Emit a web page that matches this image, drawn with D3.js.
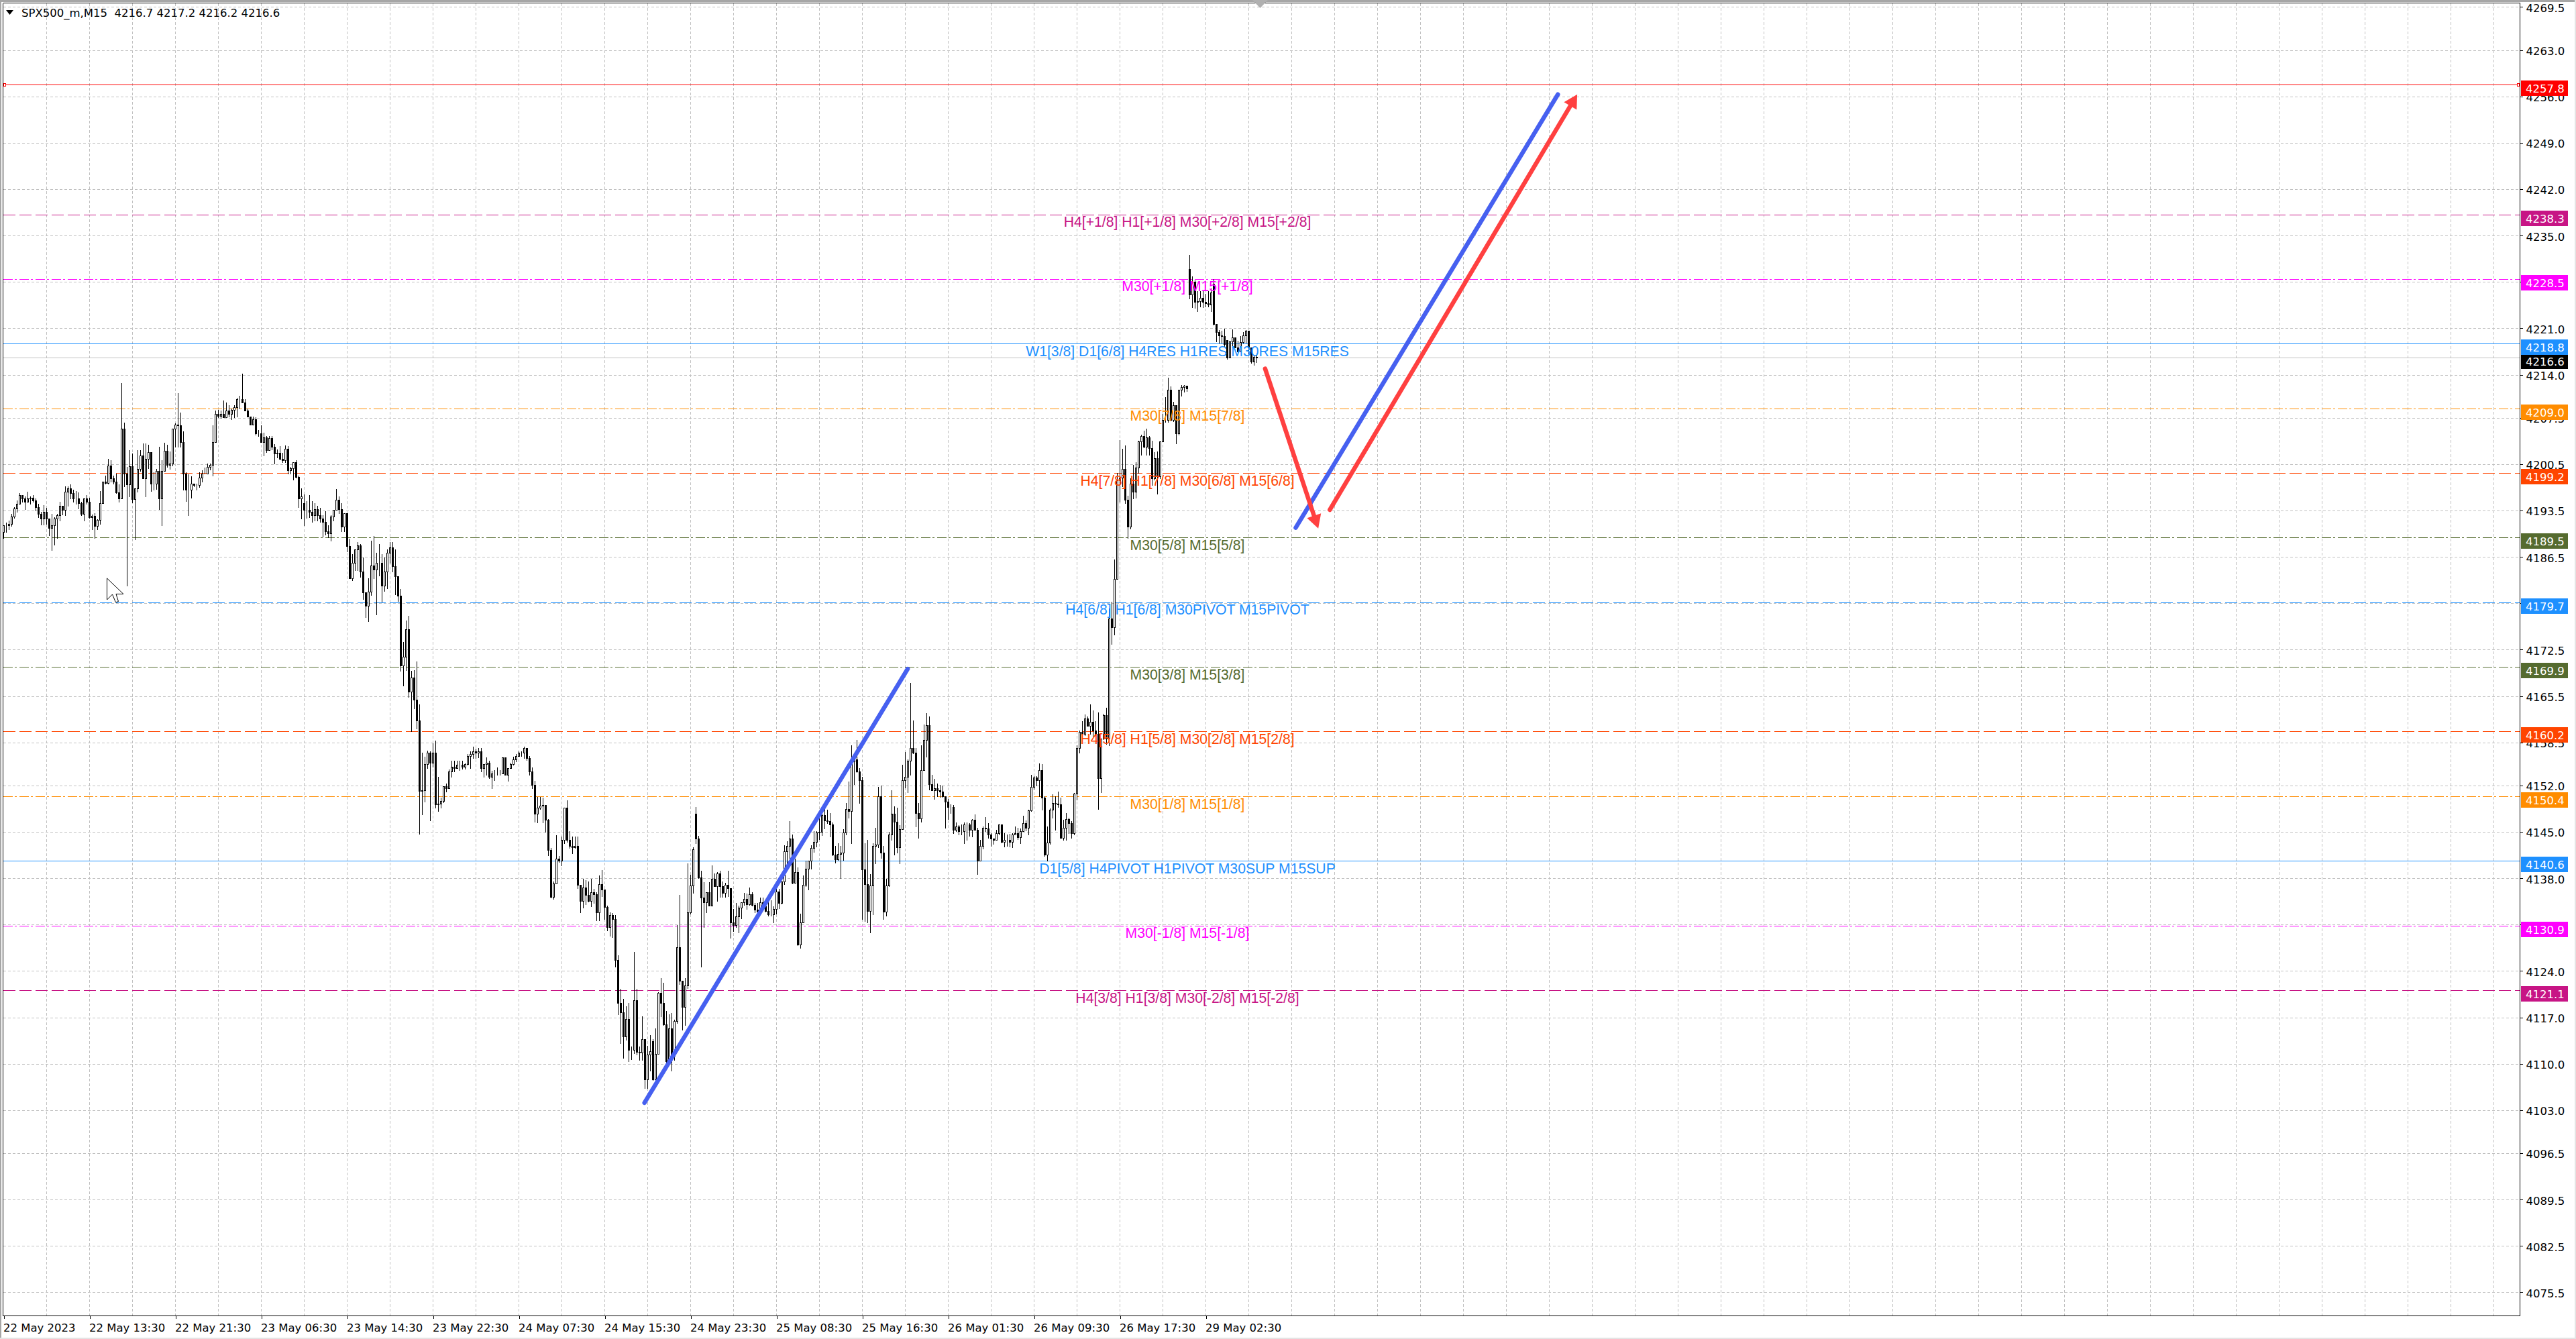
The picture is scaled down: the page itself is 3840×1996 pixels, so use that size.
<!DOCTYPE html>
<html>
<head>
<meta charset="utf-8">
<title>SPX500_m,M15</title>
<script src="https://cdn.jsdelivr.net/npm/d3@7"></script>
<style>
  html, body { margin: 0; padding: 0; background: #fff; overflow: hidden; }
  svg { display: block; }
  .axis text { font-family: "DejaVu Sans", sans-serif; font-size: 16.5px; fill: #000; }
  .axis path, .axis line { stroke: #000; shape-rendering: crispEdges; }
  .tag text, .header { font-family: "DejaVu Sans", sans-serif; font-size: 16.5px; }
  .level-label { font-family: "Liberation Sans", Arial, sans-serif; font-size: 21.2px; text-anchor: middle; }
</style>
</head>
<body>
<svg id="chart" width="3840" height="1996"></svg>
<script>
const closes = [
  4191.3,4191.3,4191.5,4192.6,4193.8,4194.5,4195.8,4195.3,4194.8,4195.3,
  4195.4,4195.0,4194.0,4193.0,4192.3,4193.3,4192.3,4190.9,4191.3,4192.3,
  4192.8,4194.2,4193.6,4196.3,4196.8,4196.1,4195.3,4195.3,4194.6,4193.0,
  4195.3,4194.8,4192.5,4192.7,4191.2,4192.1,4194.6,4197.9,4197.7,4200.3,
  4198.4,4197.9,4196.2,4195.3,4205.9,4199.1,4197.4,4200.2,4195.2,4196.8,
  4199.8,4201.8,4198.4,4201.3,4202.3,4197.6,4197.5,4199.5,4195.3,4199.5,
  4202.5,4200.4,4200.6,4205.9,4206.5,4206.4,4203.8,4199.1,4196.6,4196.6,
  4197.6,4197.3,4197.3,4198.5,4199.1,4199.1,4200.1,4200.4,4203.8,4208.1,
  4207.8,4208.1,4207.6,4208.6,4208.1,4208.7,4209.1,4210.3,4210.3,4209.8,
  4208.6,4207.7,4206.5,4207.3,4205.1,4205.1,4203.8,4204.5,4202.6,4204.4,
  4203.1,4202.1,4202.2,4201.3,4201.1,4202.8,4199.6,4199.9,4200.8,4198.6,
  4195.3,4195.6,4193.6,4193.6,4193.3,4192.8,4193.7,4192.8,4192.3,4191.8,
  4190.4,4190.1,4192.6,4193.6,4195.1,4193.7,4191.1,4193.1,4188.1,4183.3,
  4185.6,4187.6,4188.2,4184.3,4181.1,4179.1,4181.2,4185.2,4184.6,4185.6,
  4185.6,4182.2,4184.3,4187.1,4187.9,4185.1,4183.6,4180.6,4170.1,4171.4,
  4175.6,4166.2,4168.3,4164.9,4161.8,4151.2,4151.3,4155.2,4156.9,4155.4,
  4156.9,4149.2,4149.3,4149.7,4151.9,4151.6,4154.1,4154.8,4154.6,4155.1,
  4155.1,4154.8,4155.2,4156.4,4156.7,4157.2,4156.9,4157.2,4154.6,4155.2,
  4155.4,4153.3,4153.8,4153.8,4153.8,4153.8,4156.2,4153.6,4154.6,4155.2,
  4155.9,4156.4,4156.9,4156.9,4157.7,4156.1,4154.1,4152.1,4147.7,4148.6,
  4148.9,4149.1,4146.8,4142.3,4135.2,4137.2,4140.9,4140.6,4143.8,4148.6,
  4143.8,4142.9,4142.7,4142.9,4137.0,4134.6,4136.6,4135.5,4134.6,4135.9,
  4135.6,4132.9,4137.1,4136.3,4133.7,4130.6,4132.4,4131.8,4125.7,4119.2,
  4117.8,4114.1,4116.7,4112.1,4112.1,4119.6,4111.8,4111.7,4113.7,4107.6,
  4111.4,4111.9,4107.6,4111.5,4120.7,4119.2,4115.9,4110.4,4115.3,4111.2,
  4116.4,4127.6,4122.5,4118.6,4121.8,4132.9,4136.9,4142.4,4144.0,4138.1,
  4135.1,4134.4,4135.9,4133.9,4137.9,4136.8,4138.7,4136.8,4135.8,4137.0,
  4136.5,4131.3,4130.9,4132.2,4133.6,4134.4,4134.9,4134.1,4135.6,4134.0,
  4133.3,4133.0,4134.4,4133.8,4133.1,4132.5,4132.5,4133.4,4136.0,4134.3,
  4137.5,4142.1,4142.9,4144.0,4137.3,4138.9,4128.0,4131.3,4137.0,4139.4,
  4140.6,4142.6,4143.5,4144.9,4145.0,4147.5,4146.7,4146.6,4146.1,4141.6,
  4140.8,4141.7,4141.9,4144.9,4148.4,4148.1,4155.6,4155.9,4154.1,4152.8,
  4139.3,4137.1,4133.1,4136.9,4142.9,4143.1,4150.4,4141.9,4133.0,4136.9,
  4144.6,4147.7,4146.5,4142.7,4145.4,4152.8,4153.3,4155.7,4157.7,4156.9,
  4147.8,4147.0,4154.3,4158.9,4161.1,4152.2,4151.3,4151.6,4151.3,4151.1,
  4150.4,4149.6,4148.7,4148.7,4145.3,4145.8,4145.1,4145.1,4146.1,4146.1,
  4145.3,4146.8,4145.3,4140.6,4142.9,4145.6,4145.5,4144.6,4144.0,4143.8,
  4144.8,4146.1,4143.5,4143.8,4143.8,4143.5,4144.6,4144.8,4144.2,4145.1,
  4146.3,4145.6,4148.2,4151.8,4153.2,4152.8,4154.3,4150.2,4141.6,4143.4,
  4148.3,4149.4,4149.3,4149.2,4144.1,4145.6,4146.9,4146.3,4144.8,4150.8,
  4157.7,4160.1,4159.8,4162.1,4161.0,4161.6,4160.3,4159.8,4153.1,4159.1,
  4162.6,4159.1,4177.2,4175.9,4183.2,4198.1,4198.5,4199.8,4195.1,4191.1,
  4197.5,4196.3,4200.0,4203.9,4204.7,4203.1,4204.5,4202.9,4198.4,4201.4,
  4198.7,4203.9,4207.2,4207.2,4211.7,4207.2,4209.4,4205.1,4211.7,4212.1,
  4212.3,4211.9,4226.1,4228.0,4225.0,4225.1,4225.6,4225.0,4224.8,4224.6,
  4226.4,4221.6,4220.4,4219.9,4219.8,4218.6,4216.6,4219.0,4219.6,4218.1,
  4217.5,4218.9,4219.9,4220.6,4218.1,4216.0,4216.7,4216.6
];
const highs = [
  4191.3,4191.7,4192.0,4193.0,4194.0,4195.0,4196.1,4195.6,4195.6,4196.3,
  4195.6,4195.8,4195.3,4194.5,4193.3,4194.3,4193.9,4192.1,4193.0,4192.5,
  4193.0,4194.8,4194.2,4197.1,4197.1,4197.4,4196.6,4196.4,4196.2,4194.8,
  4195.3,4195.8,4195.4,4192.9,4193.1,4192.2,4196.4,4197.9,4198.8,4201.3,
  4201.1,4198.8,4199.1,4197.4,4212.7,4206.8,4200.1,4202.6,4202.1,4196.8,
  4202.6,4202.6,4203.6,4203.6,4203.4,4202.3,4199.3,4199.8,4203.1,4201.1,
  4203.7,4203.4,4202.4,4205.9,4206.7,4211.2,4208.3,4205.4,4199.3,4199.0,
  4198.7,4197.6,4197.6,4199.3,4199.6,4200.0,4200.6,4200.6,4206.4,4208.6,
  4208.7,4208.6,4210.1,4209.8,4209.4,4208.9,4209.4,4210.5,4210.8,4214.2,
  4210.3,4208.9,4207.7,4207.7,4207.6,4205.7,4206.4,4205.2,4204.7,4204.7,
  4204.7,4203.5,4202.7,4203.2,4202.2,4203.3,4203.2,4200.1,4200.8,4201.1,
  4198.8,4196.8,4195.9,4194.9,4195.8,4194.9,4194.6,4194.2,4193.9,4192.8,
  4193.4,4191.3,4192.8,4193.6,4196.7,4195.6,4194.6,4193.1,4193.1,4189.2,
  4186.9,4187.6,4188.7,4188.4,4186.4,4181.0,4183.3,4188.9,4189.7,4187.1,
  4188.4,4186.9,4186.4,4187.6,4188.7,4188.7,4187.6,4183.6,4181.7,4173.7,
  4176.9,4177.6,4169.3,4169.4,4170.7,4164.2,4156.9,4156.3,4157.3,4157.1,
  4158.4,4158.8,4153.3,4150.2,4151.9,4152.3,4154.4,4155.7,4155.7,4155.7,
  4155.7,4155.7,4155.3,4156.7,4157.2,4157.9,4157.6,4157.7,4157.7,4155.2,
  4156.2,4155.7,4154.2,4154.3,4154.7,4154.3,4156.2,4156.2,4154.6,4155.4,
  4156.3,4156.7,4157.1,4157.2,4157.9,4157.6,4156.4,4154.7,4152.7,4150.3,
  4150.3,4150.2,4148.9,4146.9,4142.6,4137.5,4144.5,4141.4,4144.3,4148.6,
  4149.8,4145.1,4144.3,4144.3,4144.3,4136.8,4137.9,4137.7,4137.5,4137.9,
  4136.4,4135.9,4138.4,4139.2,4136.1,4133.9,4132.9,4132.7,4132.4,4126.4,
  4121.3,4119.8,4118.7,4119.2,4112.6,4126.9,4121.3,4112.6,4117.2,4113.7,
  4112.7,4114.3,4113.7,4115.3,4120.8,4122.9,4122.2,4118.0,4117.5,4117.7,
  4116.6,4130.9,4135.5,4122.2,4122.9,4140.2,4138.5,4142.7,4148.7,4144.4,
  4139.1,4137.4,4135.9,4137.4,4139.9,4138.7,4138.9,4139.1,4137.5,4137.3,
  4139.1,4136.4,4133.4,4134.3,4133.9,4134.4,4135.8,4135.7,4136.6,4135.9,
  4134.3,4134.3,4135.1,4135.1,4134.5,4134.5,4134.7,4133.8,4136.7,4136.4,
  4137.5,4143.0,4143.6,4146.6,4144.6,4140.9,4139.6,4132.6,4138.4,4140.6,
  4140.6,4143.0,4145.1,4145.1,4147.7,4148.2,4148.4,4148.3,4147.8,4146.4,
  4142.9,4143.3,4142.9,4145.4,4149.4,4152.6,4158.1,4156.8,4158.9,4154.6,
  4153.3,4143.3,4143.8,4138.6,4143.3,4145.6,4151.8,4152.0,4142.9,4137.9,
  4145.0,4151.3,4148.8,4148.6,4146.0,4155.1,4157.0,4155.9,4167.5,4161.8,
  4157.7,4149.4,4158.1,4161.2,4162.9,4162.4,4153.6,4153.0,4152.3,4152.1,
  4152.0,4150.2,4150.0,4149.2,4149.0,4146.4,4146.0,4146.1,4146.4,4146.4,
  4146.3,4146.9,4147.6,4145.6,4143.8,4145.8,4147.2,4146.3,4144.8,4144.0,
  4145.3,4146.1,4145.9,4144.8,4144.6,4144.7,4144.8,4145.8,4145.6,4145.5,
  4147.4,4146.7,4148.3,4153.6,4153.4,4153.4,4155.3,4155.2,4150.4,4145.8,
  4148.5,4150.7,4150.4,4151.1,4150.2,4146.8,4147.8,4147.1,4146.6,4150.9,
  4158.1,4160.3,4161.7,4162.7,4162.4,4164.2,4163.3,4161.7,4163.0,4159.1,
  4162.8,4163.7,4178.7,4179.7,4186.1,4199.2,4204.1,4202.8,4203.3,4195.7,
  4198.4,4200.4,4200.8,4204.0,4204.9,4205.5,4205.9,4204.7,4204.0,4202.3,
  4202.4,4203.9,4208.1,4210.6,4213.5,4212.2,4209.9,4209.0,4211.7,4212.4,
  4212.4,4212.3,4232.1,4228.8,4228.2,4226.6,4226.6,4226.6,4226.2,4226.6,
  4227.0,4228.4,4221.6,4220.7,4220.6,4220.9,4219.1,4219.1,4220.8,4219.6,
  4219.1,4219.8,4220.4,4220.7,4220.5,4218.1,4217.0,4217.2
];
const lows = [
  4189.3,4190.3,4190.7,4191.2,4192.4,4193.3,4194.5,4194.8,4193.7,4194.8,
  4194.5,4194.8,4193.5,4192.5,4191.4,4191.4,4191.5,4189.8,4187.5,4188.3,
  4189.3,4192.0,4192.9,4192.8,4194.2,4195.3,4194.8,4194.5,4193.8,4192.8,
  4192.0,4194.5,4192.4,4190.7,4189.3,4190.7,4191.5,4194.6,4197.6,4197.6,
  4197.9,4197.6,4196.1,4194.8,4195.6,4197.1,4182.2,4195.6,4194.7,4189.1,
  4196.3,4199.5,4198.4,4195.6,4199.9,4196.4,4196.6,4196.7,4193.7,4191.3,
  4199.5,4200.1,4199.8,4200.3,4203.1,4203.1,4203.1,4196.6,4194.9,4192.8,
  4195.4,4197.1,4196.6,4197.0,4197.9,4199.1,4199.2,4199.7,4198.8,4203.8,
  4207.6,4207.5,4207.6,4207.6,4207.7,4207.3,4207.6,4207.7,4208.9,4209.8,
  4208.6,4207.7,4206.5,4206.7,4204.9,4204.7,4203.8,4201.8,4202.3,4202.7,
  4202.7,4200.6,4201.5,4201.2,4200.8,4200.8,4199.1,4199.1,4198.2,4198.5,
  4194.0,4192.3,4191.3,4192.4,4192.5,4191.8,4192.0,4192.0,4191.8,4189.6,
  4189.9,4189.4,4188.9,4192.0,4193.8,4193.1,4190.4,4190.4,4187.3,4183.3,
  4183.0,4184.5,4184.5,4183.5,4180.1,4177.4,4176.8,4180.7,4183.3,4177.8,
  4183.7,4179.7,4181.4,4181.8,4185.6,4184.3,4180.8,4179.8,4169.3,4167.1,
  4169.4,4165.4,4160.2,4163.6,4160.6,4144.7,4147.6,4149.6,4154.6,4146.7,
  4154.8,4148.6,4148.1,4148.6,4149.5,4151.1,4151.6,4153.3,4154.1,4154.6,
  4154.3,4154.5,4154.5,4155.1,4154.6,4156.1,4156.1,4156.2,4154.1,4153.3,
  4153.6,4153.1,4151.6,4152.8,4153.6,4153.6,4154.0,4153.6,4152.7,4154.6,
  4155.1,4155.6,4156.4,4156.4,4156.1,4155.8,4153.6,4151.6,4146.5,4146.4,
  4148.4,4146.4,4145.0,4141.5,4135.1,4134.9,4137.5,4140.4,4139.9,4143.3,
  4143.5,4142.6,4141.8,4142.6,4136.5,4132.9,4133.6,4134.1,4134.5,4133.8,
  4134.3,4131.6,4131.6,4135.3,4131.8,4130.1,4129.3,4129.1,4124.6,4117.5,
  4113.1,4110.9,4113.6,4110.4,4110.7,4111.6,4111.4,4110.6,4110.6,4106.3,
  4106.3,4109.0,4107.5,4107.5,4111.7,4117.2,4115.8,4109.2,4110.2,4109.0,
  4110.6,4116.1,4122.0,4115.1,4115.8,4121.4,4132.6,4135.8,4143.3,4138.0,
  4124.6,4130.6,4132.9,4133.9,4134.0,4136.8,4134.6,4135.2,4135.2,4135.2,
  4135.3,4129.0,4130.0,4130.6,4129.8,4131.9,4134.0,4133.4,4134.0,4133.9,
  4132.9,4132.8,4132.8,4133.8,4133.0,4132.3,4132.3,4131.3,4132.6,4133.5,
  4134.2,4137.1,4140.2,4140.9,4137.2,4137.3,4127.9,4127.5,4131.3,4136.8,
  4136.3,4139.4,4142.0,4142.8,4143.9,4144.5,4145.5,4146.3,4144.3,4141.5,
  4140.3,4140.7,4138.0,4140.7,4144.6,4147.1,4143.3,4152.2,4154.0,4149.4,
  4131.8,4131.5,4131.3,4129.8,4132.5,4140.2,4142.7,4141.1,4131.8,4132.3,
  4136.8,4143.8,4141.6,4141.9,4140.2,4145.5,4151.7,4151.0,4153.6,4156.8,
  4145.8,4144.1,4146.5,4154.4,4156.3,4151.4,4151.3,4150.0,4150.4,4150.3,
  4150.3,4145.6,4146.9,4147.8,4144.8,4145.1,4144.6,4144.6,4143.3,4143.8,
  4144.4,4144.3,4145.3,4138.6,4140.6,4142.5,4145.1,4144.1,4142.9,4143.2,
  4144.0,4144.6,4143.4,4142.8,4142.9,4142.8,4142.7,4144.8,4143.9,4143.3,
  4145.1,4145.2,4144.6,4148.1,4151.5,4152.0,4150.4,4148.3,4141.4,4140.6,
  4143.2,4147.1,4145.3,4148.7,4144.1,4143.8,4143.8,4144.8,4144.1,4144.6,
  4149.9,4156.9,4159.1,4159.6,4161.0,4159.8,4159.5,4159.6,4148.4,4151.0,
  4159.0,4158.3,4158.1,4173.4,4174.8,4183.3,4194.8,4197.1,4194.6,4189.3,
  4190.8,4195.3,4195.4,4199.2,4201.9,4203.0,4201.9,4201.9,4197.3,4198.2,
  4196.0,4198.4,4203.9,4206.9,4206.9,4207.1,4207.0,4203.6,4204.9,4210.8,
  4211.4,4211.5,4225.5,4224.2,4224.1,4223.6,4224.3,4224.2,4224.3,4224.3,
  4223.6,4221.5,4219.0,4218.8,4218.8,4218.2,4216.4,4216.6,4218.1,4218.1,
  4217.4,4217.5,4218.8,4218.8,4217.0,4215.8,4215.5,4215.9
];
// an open follows the previous close, except at these gaps
const gapBars = [0, 112, 242, 258, 442, 451, 456];
const gapOpens = [4190.3, 4194.6, 4113.4, 4147.7, 4230.0, 4227.7, 4219.2];

const priceTicks = [4269.5,4263,4256,4249,4242,4235,4228,4221,4214,4207.5,4200.5,4193.5,4186.5,
  4179.5,4172.5,4165.5,4158.5,4152,4145,4138,4131,4124,4117,4110,4103,4096.5,4089.5,4082.5,4075.5];
const timeLabels = ["22 May 2023","22 May 13:30","22 May 21:30","23 May 06:30","23 May 14:30",
  "23 May 22:30","24 May 07:30","24 May 15:30","24 May 23:30","25 May 08:30","25 May 16:30",
  "26 May 01:30","26 May 09:30","26 May 17:30","29 May 02:30"];

const levelPrices = [4238.2,4228.45,4218.7,4208.9,4199.15,4189.4,4179.65,4169.9,4160.15,4150.35,4140.6,4130.85,4121.1];
const levelTags = ["4238.3","4228.5","4218.8","4209.0","4199.2","4189.5","4179.7","4169.9","4160.2","4150.4","4140.6","4130.9","4121.1"];
const levelColors = ["#c71585","#ff00ff","#1e90ff","#ff8c00","#ff4500","#556b2f","#1e90ff","#556b2f","#ff4500","#ff8c00","#1e90ff","#ff00ff","#c71585"];
const levelKinds = ["dash","dashdot","solid","dashdot","dash","dashdot","dash","dashdot","dash","dashdot","solid","dashdot","dash"];
const levelTexts = [
  "H4[+1/8] H1[+1/8] M30[+2/8] M15[+2/8]",
  "M30[+1/8] M15[+1/8]",
  "W1[3/8] D1[6/8] H4RES H1RES M30RES M15RES",
  "M30[7/8] M15[7/8]",
  "H4[7/8] H1[7/8] M30[6/8] M15[6/8]",
  "M30[5/8] M15[5/8]",
  "H4[6/8] H1[6/8] M30PIVOT M15PIVOT",
  "M30[3/8] M15[3/8]",
  "H4[5/8] H1[5/8] M30[2/8] M15[2/8]",
  "M30[1/8] M15[1/8]",
  "D1[5/8] H4PIVOT H1PIVOT M30SUP M15SUP",
  "M30[-1/8] M15[-1/8]",
  "H4[3/8] H1[3/8] M30[-2/8] M15[-2/8]"
];

const targetPrice = 4257.8;
const bidPrice = 4216.6;

// bar index and price of both ends
const trendLines = [
  { bars: [238.8, 336.9], prices: [4104.1, 4169.6], color: "#4660f0", arrow: false },
  { bars: [481.5, 579.2], prices: [4190.9, 4256.3], color: "#4660f0", arrow: false },
  { bars: [470.1, 489.9], prices: [4214.9, 4190.8], color: "#ff4040", arrow: true },
  { bars: [494.2, 586.4], prices: [4193.6, 4256.3], color: "#ff4040", arrow: true }
];

const width = 3840;
const height = 1996;
const plotLeft = 4.5;
const plotTop = 4.5;
const plotRight = 3756.5;
const plotBottom = 1961.5;

const svg = d3.select("#chart");
const xScale = d3.scaleLinear().domain([0, 467]).range([5.5, 1873.5]);
const yScale = d3.scaleLinear().domain([4269.5, 4075.5]).range([10.4, 1926.4]);
const snap = (v) => Math.round(v) + 0.5;

// window frame
svg.append("rect").attr("width", width).attr("height", height).attr("fill", "#fff");
svg.append("rect").attr("width", width).attr("height", 3).attr("fill", "#a6a6a6");
svg.append("rect").attr("width", 2).attr("height", height).attr("fill", "#a6a6a6");
svg.append("rect").attr("x", width - 2).attr("width", 2).attr("height", height).attr("fill", "#e4e4e4");
svg.append("rect").attr("y", height - 2).attr("width", width).attr("height", 2).attr("fill", "#e4e4e4");

// grid
const gridBars = d3.range(16, 937, 16);
const grid = svg.append("g").attr("stroke", "#c0c0c0").attr("stroke-dasharray", "4 3").attr("shape-rendering", "crispEdges");
grid.selectAll(".gx").data(gridBars).enter().append("line")
  .attr("x1", (d) => snap(xScale(d) - 0.5)).attr("x2", (d) => snap(xScale(d) - 0.5))
  .attr("y1", plotTop).attr("y2", plotBottom);
grid.selectAll(".gy").data(priceTicks).enter().append("line")
  .attr("x1", plotLeft).attr("x2", plotRight)
  .attr("y1", (d) => snap(yScale(d))).attr("y2", (d) => snap(yScale(d)));

// horizontal levels
const dashes = { dash: "18 6", dashdot: "14 3 3 4", solid: null };
const levelRows = levelPrices.map((p, i) => ({
  price: p, tag: levelTags[i], color: levelColors[i], kind: levelKinds[i], text: levelTexts[i]
}));
svg.append("g").attr("shape-rendering", "crispEdges").selectAll("line").data(levelRows).enter().append("line")
  .attr("x1", plotLeft).attr("x2", plotRight)
  .attr("y1", (d) => snap(yScale(d.price))).attr("y2", (d) => snap(yScale(d.price)))
  .attr("stroke", (d) => d.color)
  .attr("stroke-dasharray", (d) => dashes[d.kind]);

svg.append("line").attr("x1", plotLeft).attr("x2", plotRight)
  .attr("y1", snap(yScale(bidPrice))).attr("y2", snap(yScale(bidPrice)))
  .attr("stroke", "#c0c0c0").attr("shape-rendering", "crispEdges");

svg.append("line").attr("x1", plotLeft).attr("x2", plotRight)
  .attr("y1", snap(yScale(targetPrice))).attr("y2", snap(yScale(targetPrice)))
  .attr("stroke", "#ff0000").attr("shape-rendering", "crispEdges");
[5, 3752].forEach((x) => {
  svg.append("rect").attr("x", x + 0.5).attr("y", snap(yScale(targetPrice)) - 2).attr("width", 3).attr("height", 4)
    .attr("fill", "#fff").attr("stroke", "#ff0000").attr("shape-rendering", "crispEdges");
});

// candles
const candles = closes.map((c, i) => {
  const g = gapBars.indexOf(i);
  return { i, open: g >= 0 ? gapOpens[g] : closes[i - 1], high: highs[i], low: lows[i], close: c };
});
const candleG = svg.append("g").attr("shape-rendering", "crispEdges");
candleG.selectAll(".wick").data(candles).enter().append("line")
  .attr("x1", (d) => xScale(d.i)).attr("x2", (d) => xScale(d.i))
  .attr("y1", (d) => Math.round(yScale(d.high))).attr("y2", (d) => Math.round(yScale(d.low)) + 1)
  .attr("stroke", "#000");
candleG.selectAll(".body").data(candles).enter().append("rect")
  .attr("x", (d) => xScale(d.i) - 1)
  .attr("width", 2)
  .attr("y", (d) => snap(yScale(Math.max(d.open, d.close))))
  .attr("height", (d) => Math.round(yScale(Math.min(d.open, d.close))) - Math.round(yScale(Math.max(d.open, d.close))))
  .attr("fill", (d) => (d.close >= d.open ? "#fff" : "#000"))
  .attr("stroke", "#000");

// level captions sit on top of the candles
svg.append("g").selectAll("text").data(levelRows).enter().append("text")
  .attr("class", "level-label")
  .attr("x", 1770)
  .attr("y", (d) => yScale(d.price) + 18.5)
  .attr("fill", (d) => d.color)
  .text((d) => d.text);

// hand drawn trend lines and arrows
trendLines.forEach((t) => {
  const x1 = xScale(t.bars[0]), x2 = xScale(t.bars[1]);
  const y1 = yScale(t.prices[0]), y2 = yScale(t.prices[1]);
  const a = Math.atan2(y2 - y1, x2 - x1);
  const head = 20;
  const endX = t.arrow ? x2 - Math.cos(a) * head : x2;
  const endY = t.arrow ? y2 - Math.sin(a) * head : y2;
  svg.append("line").attr("x1", x1).attr("y1", y1).attr("x2", endX).attr("y2", endY)
    .attr("stroke", t.color).attr("stroke-width", 6.5).attr("stroke-linecap", "round");
  if (t.arrow) {
    const px = Math.cos(a + Math.PI / 2) * 11, py = Math.sin(a + Math.PI / 2) * 11;
    svg.append("polygon")
      .attr("points", [[x2, y2], [endX + px, endY + py], [endX - px, endY - py]].join(" "))
      .attr("fill", t.color);
  }
});

// mouse pointer left in the screenshot
svg.append("polygon")
  .attr("points", "159.5,862 159.5,894 167.5,886 172.5,898 176.5,896.5 173,885.5 184,885.5")
  .attr("fill", "#fff").attr("stroke", "#000").attr("stroke-width", 1);

// axes
const yAxis = d3.axisRight(yScale).tickValues(priceTicks).tickSize(4).tickPadding(5).tickFormat(d3.format(".1f"));
svg.append("g").attr("class", "axis").attr("transform", `translate(${plotRight},0)`).call(yAxis)
  .call((g) => g.select(".domain").attr("d", `M0,${plotTop}V${plotBottom}`))
  .call((g) => g.selectAll("text").attr("dy", "0.42em"));

const timeBars = timeLabels.map((d, i) => i * 32);
const xAxis = d3.axisBottom(xScale).tickValues(timeBars).tickSize(4).tickPadding(8)
  .tickFormat((d) => timeLabels[d / 32]);
svg.append("g").attr("class", "axis").attr("transform", `translate(0,${plotBottom})`).call(xAxis)
  .call((g) => g.select(".domain").attr("d", `M${plotLeft},0H${plotRight}`))
  .call((g) => g.selectAll("text").attr("text-anchor", "start").attr("x", -1));

svg.append("line").attr("x1", plotLeft).attr("x2", plotLeft).attr("y1", plotTop).attr("y2", plotBottom)
  .attr("stroke", "#000").attr("shape-rendering", "crispEdges");
svg.append("line").attr("x1", plotLeft).attr("x2", plotRight).attr("y1", plotTop).attr("y2", plotTop)
  .attr("stroke", "#000").attr("shape-rendering", "crispEdges");

// price tags over the axis
const tags = [{ price: bidPrice, tag: "4216.6", color: "#000" },
  { price: targetPrice, tag: "4257.8", color: "#ff0000" }].concat(levelRows);
const tagG = svg.append("g").attr("class", "tag").selectAll("g").data(tags).enter().append("g")
  .attr("transform", (d) => `translate(3758,${Math.round(yScale(d.price)) - 6})`);
tagG.append("rect").attr("width", 70).attr("height", 23).attr("fill", (d) => d.color);
tagG.append("text").attr("x", 7).attr("y", 18).attr("fill", "#fff").text((d) => d.tag);

// chart header
svg.append("polygon").attr("points", "9,15 20,15 14.5,22").attr("fill", "#000");
svg.append("text").attr("class", "header").attr("x", 32).attr("y", 25).attr("fill", "#000")
  .attr("xml:space", "preserve").text("SPX500_m,M15  4216.7 4217.2 4216.2 4216.6");
svg.append("polygon").attr("points", "1867,0 1890,0 1878.5,12").attr("fill", "#b0b0b0");
</script>
</body>
</html>
